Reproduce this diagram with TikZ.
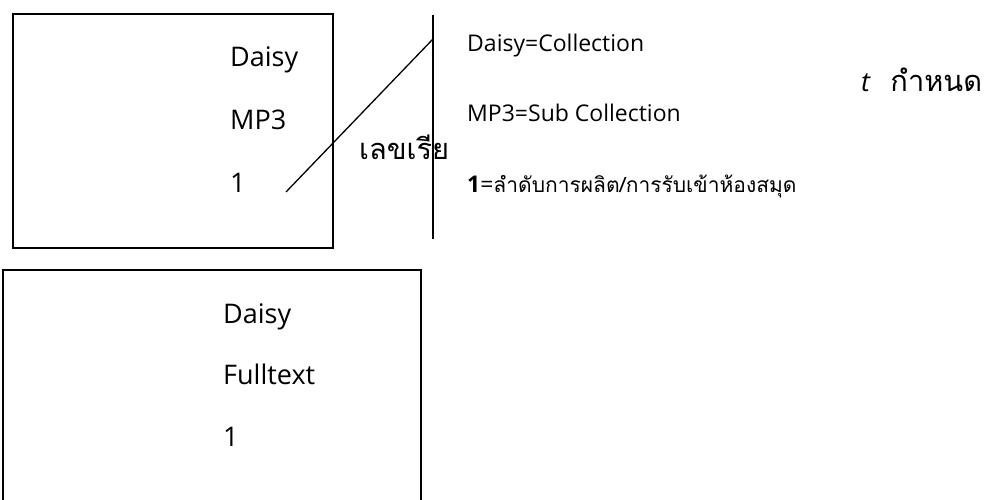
\documentclass[tikz,border=0pt]{standalone}
\usepackage{fontspec}
\setmainfont{Open Sans}
\newfontfamily\thaifont[Script=Thai]{Loma}
\begin{document}
\begin{tikzpicture}[x=1pt,y=1pt,
  boxline/.style={draw=black,line width=1.3pt},
  bigtxt/.style={anchor=base west,inner sep=0pt,font=\fontsize{27}{30}\selectfont},
  keytxt/.style={anchor=base west,inner sep=0pt,font=\fontsize{23}{27}\selectfont},
  thaitxt/.style={anchor=base west,inner sep=0pt,font=\thaifont\fontsize{29}{32}\selectfont}]
\useasboundingbox (0,0) rectangle (989,500);
\clip (0,0) rectangle (989,500);
% box 1
\draw[boxline] (13,486) rectangle (333,252);
\node[bigtxt] (d1) at (230,433) {Daisy};
\node[bigtxt] (m1) at (230,370) {MP3};
\node[bigtxt] (o1) at (230,307) {1};
% box 2
\draw[boxline] (3,230) rectangle (421,-10);
\node[bigtxt] (d2) at (223,176) {Daisy};
\node[bigtxt] (f2) at (223,115) {Fulltext};
\node[bigtxt] (o2) at (223,53) {1};
% bracket line and pointer
\coordinate (vt) at (433,485);
\coordinate (vb) at (433,261);
\coordinate (ps) at (286,308);
\coordinate (pe) at (433,461);
\draw[line width=1.3pt] (vt) -- (vb);
\draw[line width=1.3pt] (ps) -- (pe);
\node[thaitxt] (lek) at (359,340) {เลขเรีย};
% key texts
\node[keytxt] (k1) at (467,448) {Daisy=Collection};
\node[keytxt] (k2) at (467,378) {MP3=Sub Collection};
\node[keytxt] (k3) at (467,307) {\textbf{1}={\thaifont\fontsize{21}{25}\selectfont ลำดับการผลิต/การรับเข้าห้องสมุด}};
\node[thaitxt] (kt) at (861,408) {\textit{\fontspec{Open Sans}\fontsize{27}{30}\selectfont t}\ \ กำหนด};
\end{tikzpicture}
\end{document}
